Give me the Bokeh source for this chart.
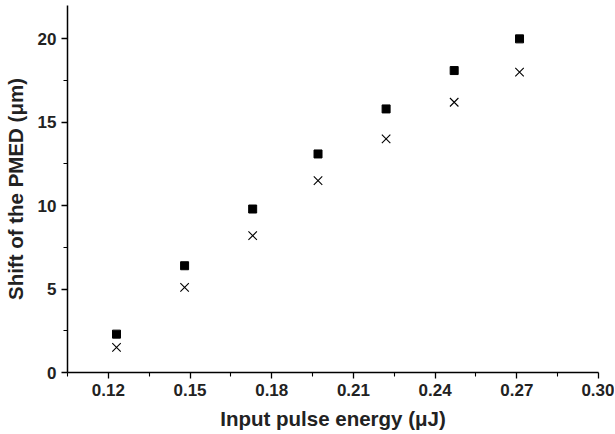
from bokeh.plotting import figure
from bokeh.models import Range1d, FixedTicker
from bokeh.embed import file_html
from bokeh.resources import INLINE

energy = [0.123, 0.148, 0.173, 0.197, 0.222, 0.247, 0.271]
shift_squares = [2.3, 6.4, 9.8, 13.1, 15.8, 18.1, 20.0]
shift_crosses = [1.5, 5.1, 8.2, 11.5, 14.0, 16.2, 18.0]
x_ticks = [0.12, 0.15, 0.18, 0.21, 0.24, 0.27, 0.30]
x_minor = [0.105, 0.135, 0.165, 0.195, 0.225, 0.255, 0.285]
y_ticks = [0, 5, 10, 15, 20]
y_minor = [2.5, 7.5, 12.5, 17.5]
x_title = "Input pulse energy (μJ)"
y_title = "Shift of the PMED (μm)"

FONT = "Liberation Sans"

p = figure(width=614, height=432, output_backend="svg", toolbar_location=None,
           x_range=Range1d(0.105, 0.30), y_range=Range1d(0, 22.0),
           min_border_left=66, min_border_right=16, min_border_top=5, min_border_bottom=60)

p.scatter(energy, shift_squares, marker="square", size=8, color="black")
p.scatter(energy, shift_crosses, marker="x", size=12, line_color="black", line_width=1.1)

p.xgrid.visible = False
p.ygrid.visible = False
p.outline_line_color = None
p.background_fill_color = "white"
p.border_fill_color = "white"

p.xaxis.ticker = FixedTicker(ticks=x_ticks, minor_ticks=x_minor)
p.yaxis.ticker = FixedTicker(ticks=y_ticks, minor_ticks=y_minor)
p.xaxis.major_label_overrides = {0.3: "0.30"}

for ax in (p.xaxis, p.yaxis):
    ax.axis_line_color = "black"
    ax.axis_line_width = 1.5
    ax.major_tick_line_color = "black"
    ax.major_tick_line_width = 1.3
    ax.minor_tick_line_color = "black"
    ax.minor_tick_line_width = 1.1
    ax.major_tick_in = 0
    ax.major_tick_out = 6
    ax.minor_tick_in = 0
    ax.minor_tick_out = 4
    ax.major_label_text_font = FONT
    ax.major_label_text_font_style = "bold"
    ax.major_label_text_font_size = "17px"
    ax.major_label_text_color = "#222222"
    ax.axis_label_text_font = FONT
    ax.axis_label_text_font_style = "bold"
    ax.axis_label_text_font_size = "20.5px"
    ax.axis_label_text_color = "#222222"

p.xaxis.axis_label = x_title
p.yaxis.axis_label = y_title
p.xaxis.major_label_standoff = 5
p.yaxis.major_label_standoff = 5
p.xaxis.axis_label_standoff = 8
p.yaxis.axis_label_standoff = 8

open("out.html", "w").write(file_html(p, INLINE))
